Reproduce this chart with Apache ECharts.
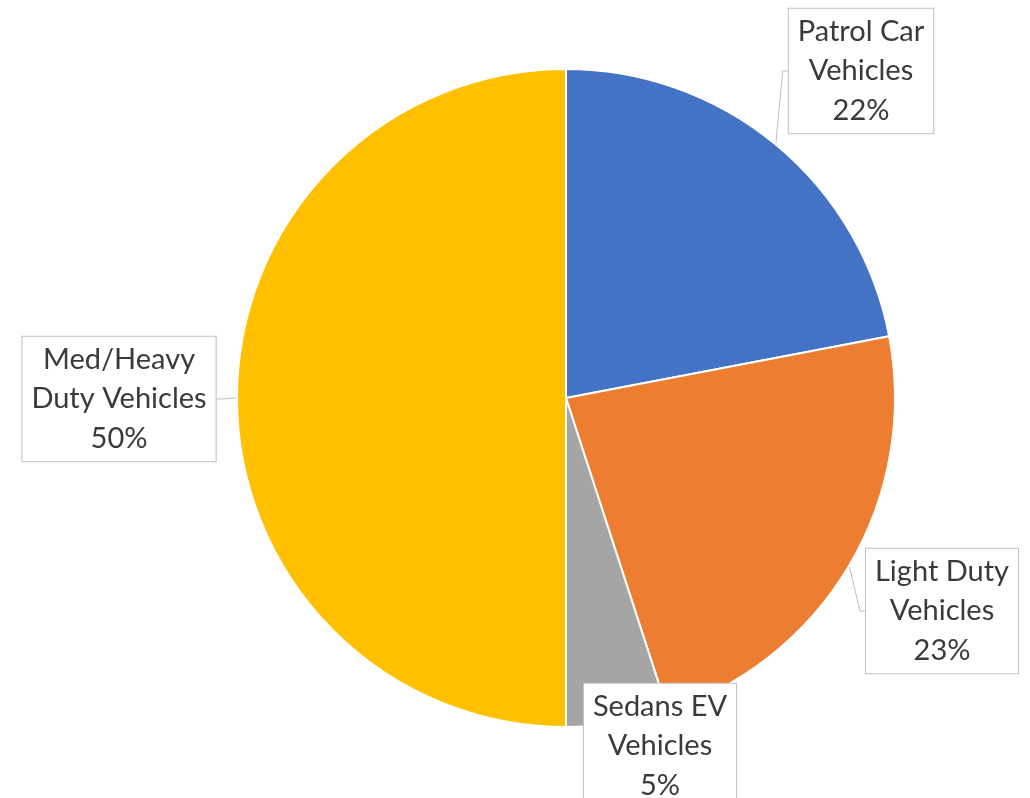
<!DOCTYPE html>
<html>
<head>
<meta charset="utf-8">
<script src="https://cdn.jsdelivr.net/npm/echarts@6/dist/echarts.min.js"></script>
<style>
  html, body { margin: 0; padding: 0; background: #fff; }
  #chart { width: 1030px; height: 798px; }
</style>
</head>
<body>
<div id="chart"></div>
<script>
// slice names (with line breaks as shown in the callouts) and shares in %
var categories = ['Patrol Car\nVehicles', 'Light Duty\nVehicles', 'Sedans EV\nVehicles', 'Med/Heavy\nDuty Vehicles']
var shares = [22, 23, 5, 50]
var colors = ['#4472C4', '#ED7D31', '#A5A5A5', '#FFC000']

// where each callout box sits (centre, px)
var labelSpots = [[861, 71], [942, 611], [660, 746], [119, 399]]

var dom = echarts.init(document.getElementById('chart'))

var option = {
  animation: false,
  backgroundColor: '#fff',
  color: colors,
  series: [
    {
      type: 'pie',
      center: [566, 398],
      radius: 329,
      startAngle: 90,
      clockwise: true,
      silent: true,
      itemStyle: {
        borderColor: '#fff',
        borderWidth: 2
      },
      label: {
        show: true,
        position: 'outside',
        formatter: function (p) {
          return p.name + '\n' + p.value + '%'
        },
        fontFamily: 'Lato',
        fontSize: 29,
        lineHeight: 39.5,
        color: '#3a3a3a',
        align: 'center',
        backgroundColor: '#fff',
        borderColor: '#BFBFBF',
        borderWidth: 1,
        padding: [5, 9, 1, 9]
      },
      labelLine: {
        show: true,
        length: 5,
        length2: 5,
        lineStyle: { color: '#BFBFBF', width: 1 }
      },
      labelLayout: function (params) {
        var s = labelSpots[params.dataIndex]
        return { x: s[0], y: s[1], align: 'center', verticalAlign: 'middle' }
      },
      data: categories.map(function (name, i) {
        return { name: name, value: shares[i] }
      })
    }
  ]
}

dom.setOption(option)
</script>
</body>
</html>
